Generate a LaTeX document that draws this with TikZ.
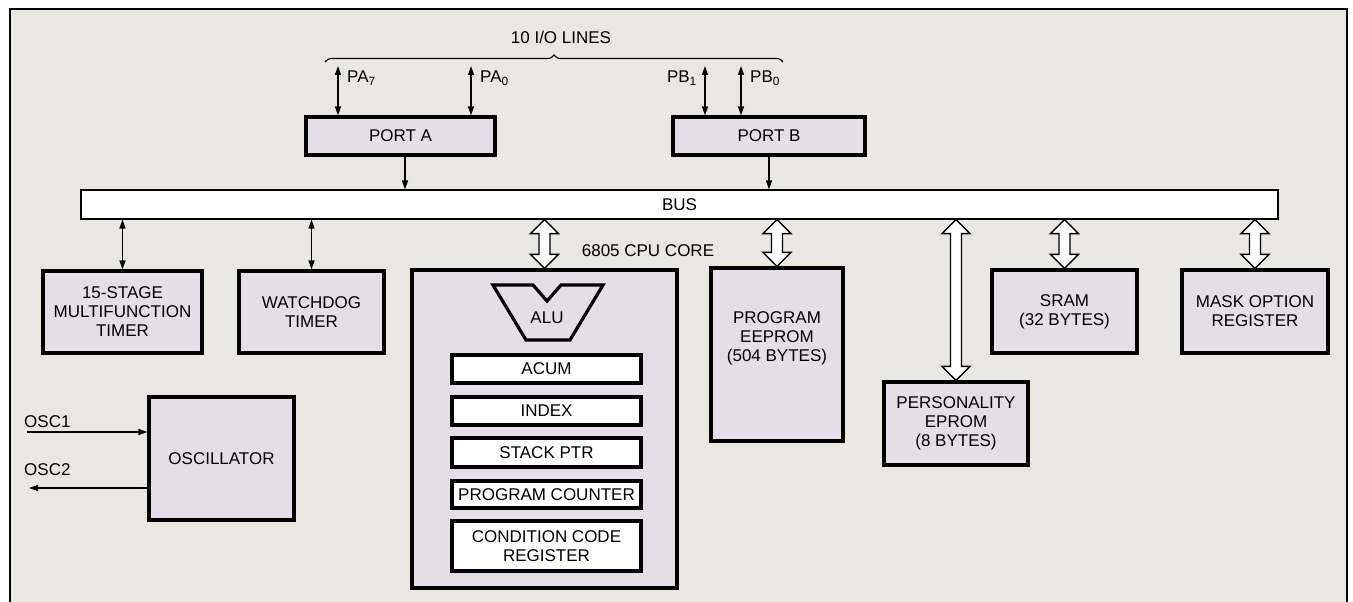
\documentclass[tikz,border=0pt]{standalone}
\usepackage{fontspec}
\setmainfont{Liberation Sans}
\usetikzlibrary{arrows.meta,calc,decorations.pathreplacing}
\definecolor{bg}{HTML}{E9E7E2}
\definecolor{boxfill}{HTML}{E5DEE9}
\newcommand\hollowarrow[2]{%
  \draw[line width=1.4pt,fill=white,line join=miter] let \p1=#1, \p2=#2 in
  (\x1,\y1) -- (\x1+14pt,\y1-14pt) -- (\x1+5.5pt,\y1-14pt) -- (\x1+5.5pt,\y2+14pt)
  -- (\x1+14pt,\y2+14pt) -- (\x1,\y2) -- (\x1-14pt,\y2+14pt) -- (\x1-5.5pt,\y2+14pt)
  -- (\x1-5.5pt,\y1-14pt) -- (\x1-14pt,\y1-14pt) -- cycle;}
\begin{document}
\begin{tikzpicture}[x=1pt,y=-1pt,
  txt/.style={font=\fontsize{17}{19}\selectfont},
  box/.style={draw,line width=3.2pt,fill=boxfill,align=center,inner sep=0pt,txt},
  reg/.style={box,fill=white},
  thinline/.style={line width=1.5pt},
  tip/.style={thinline,-{Triangle[length=9pt,width=6pt]}},
  dtip/.style={thinline,{Triangle[length=9pt,width=6pt]}-{Triangle[length=9pt,width=6pt]}},
  lbl/.style={txt,inner sep=0pt,align=center}]
\useasboundingbox (0,0) rectangle (1353,602);
\fill[white] (0,0) rectangle (1353,602);
\fill[bg] (10,9) rectangle (1347,602);
\draw[line width=1.5pt] (10,602) -- (10,9) -- (1347,9) -- (1347,602);

% ports and bus
\node[box,minimum width=189pt,minimum height=38pt] (porta) at (400.5,136) {PORT A};
\node[box,minimum width=192pt,minimum height=38pt] (portb) at (769,136) {PORT B};
\node[draw,line width=1.1pt,fill=white,minimum width=1197pt,minimum height=29pt,inner sep=0pt,txt] (bus) at (679.5,204.5) {BUS};

% blocks
\node[box,minimum width=159pt,minimum height=82pt] (timer) at (122.5,312) {15-STAGE\\MULTIFUNCTION\\TIMER};
\node[box,minimum width=145pt,minimum height=82pt] (wdog) at (311.5,312) {WATCHDOG\\TIMER};
\node[box,minimum width=265pt,minimum height=318pt] (cpu) at (544.5,429) {};
\node[lbl] (cpulbl) at (648,251) {6805 CPU CORE};
\node[box,minimum width=132pt,minimum height=173pt] (eeprom) at (777,354.5) {};
\node[lbl] (eepromlbl) at (777,338) {PROGRAM\\EEPROM\\(504 BYTES)};
\node[box,minimum width=144pt,minimum height=83pt] (pers) at (956,423.5) {PERSONALITY\\EPROM\\(8 BYTES)};
\node[box,minimum width=145pt,minimum height=83pt] (sram) at (1064.5,311.5) {SRAM\\(32 BYTES)};
\node[box,minimum width=146pt,minimum height=83pt] (mask) at (1255,311.5) {MASK OPTION\\REGISTER};
\node[box,minimum width=145pt,minimum height=123pt] (osc) at (221.5,458.5) {OSCILLATOR};

% CPU internals
\draw[line width=3.2pt,fill=boxfill,line join=miter] (493,285) -- (533,285) -- (547,301) -- (561,285) -- (603,285) -- (570,340) -- (526,340) -- cycle;
\node[lbl] (alu) at (547,318) {ALU};
\node[reg,minimum width=189pt,minimum height=28pt] (acum) at (546.5,369) {ACUM};
\node[reg,minimum width=189pt,minimum height=28pt] (index) at (546.5,411) {INDEX};
\node[reg,minimum width=189pt,minimum height=29pt] (sp) at (546.5,452.5) {STACK PTR};
\node[reg,minimum width=189pt,minimum height=27pt] (pc) at (546.5,494.5) {PROGRAM COUNTER};
\node[reg,minimum width=189pt,minimum height=50pt] (ccr) at (546.5,546) {CONDITION CODE\\REGISTER};

% I/O lines
\coordinate (pa7) at (338,66);
\coordinate (pa0) at (471,66);
\coordinate (pb1) at (705,66);
\coordinate (pb0) at (741,66);
\draw[dtip] (pa7) -- (pa7 |- porta.north);
\draw[dtip] (pa0) -- (pa0 |- porta.north);
\draw[dtip] (pb1) -- (pb1 |- portb.north);
\draw[dtip] (pb0) -- (pb0 |- portb.north);
\node[lbl,anchor=west] (pa7l) at (347,78) {PA\textsubscript{7}};
\node[lbl,anchor=west] (pa0l) at (480,78) {PA\textsubscript{0}};
\node[lbl,anchor=east] (pb1l) at (697,78) {PB\textsubscript{1}};
\node[lbl,anchor=west] (pb0l) at (750,78) {PB\textsubscript{0}};
\draw[line width=1.1pt,decorate,decoration={brace,amplitude=7pt}] (325,62) -- (783,62);
\node[lbl] (io) at (561,37) {10 I/O LINES};

% port to bus
\draw[tip] ([xshift=4.5pt]porta.south) -- ([xshift=4.5pt]porta.south |- bus.north);
\draw[tip] (portb.south) -- (portb.south |- bus.north);

% bus to blocks
\draw[dtip] (bus.south -| timer.north) -- (timer.north);
\draw[dtip] (bus.south -| wdog.north) -- (wdog.north);
\hollowarrow{(bus.south -| cpu.north)}{(cpu.north)}
\hollowarrow{(bus.south -| eeprom.north)}{(eeprom.north)}
\hollowarrow{(bus.south -| pers.north)}{(pers.north)}
\hollowarrow{(bus.south -| sram.north)}{(sram.north)}
\hollowarrow{(bus.south -| mask.north)}{(mask.north)}

% oscillator
\coordinate (osc1) at (27,432);
\coordinate (osc2) at (29,488);
\draw[tip] (osc1) -- (osc1 -| osc.west);
\draw[tip] (osc2 -| osc.west) -- (osc2);
\node[lbl,anchor=west] (osc1l) at (24,422) {OSC1};
\node[lbl,anchor=west] (osc2l) at (24,470) {OSC2};
\end{tikzpicture}
\end{document}
